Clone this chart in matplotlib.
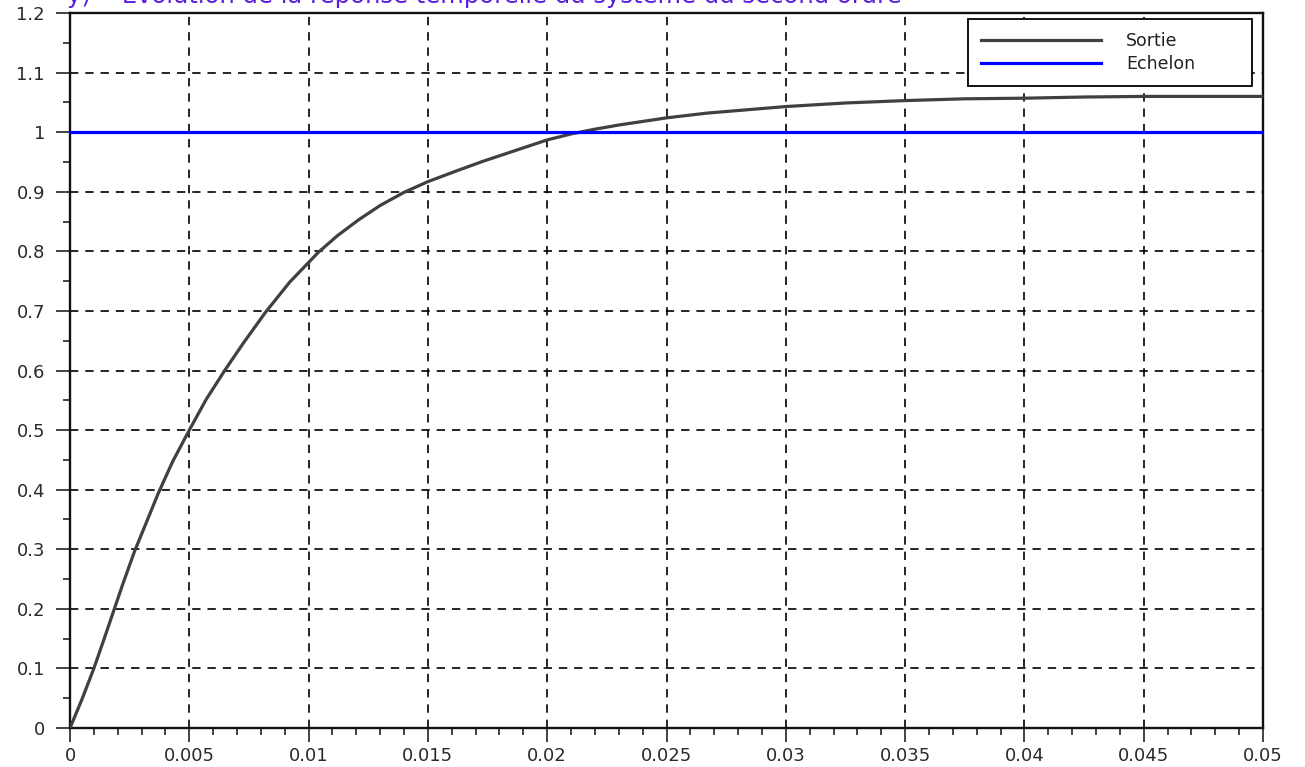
import matplotlib
matplotlib.use("Agg")
import matplotlib.pyplot as plt
from matplotlib.ticker import MultipleLocator, FixedLocator

plt.rcParams['font.family'] = ['DejaVu Sans']
plt.rcParams['lines.scale_dashes'] = False

# ---- data ----
t_sortie = [0, 0.0005, 0.001, 0.0014, 0.0018, 0.0022, 0.0027, 0.0032, 0.0037, 0.0043,
            0.005, 0.0057, 0.0065, 0.0073, 0.0082, 0.0092, 0.0104, 0.0112, 0.0121,
            0.013, 0.014, 0.015, 0.0162, 0.0173, 0.0185, 0.02, 0.021, 0.022, 0.023,
            0.025, 0.0267, 0.03, 0.0325, 0.035, 0.0375, 0.04, 0.0425, 0.045, 0.05]
y_sortie = [0, 0.048, 0.1, 0.146, 0.193, 0.24, 0.296, 0.345, 0.394, 0.447,
            0.5, 0.551, 0.601, 0.648, 0.698, 0.748, 0.798, 0.826, 0.853,
            0.877, 0.899, 0.917, 0.935, 0.951, 0.967, 0.987, 0.997, 1.005, 1.012,
            1.024, 1.032, 1.043, 1.049, 1.053, 1.056, 1.057, 1.059, 1.06, 1.06]
t_echelon = [0, 0.05]
y_echelon = [1, 1]

labels = ["Sortie", "Echelon"]
x_ticks = [0, 0.005, 0.01, 0.015, 0.02, 0.025, 0.03, 0.035, 0.04, 0.045, 0.05]
x_ticklabels = ["0", "0.005", "0.01", "0.015", "0.02", "0.025", "0.03", "0.035", "0.04", "0.045", "0.05"]
y_ticks = [0, 0.1, 0.2, 0.3, 0.4, 0.5, 0.6, 0.7, 0.8, 0.9, 1, 1.1, 1.2]
y_ticklabels = ["0", "0.1", "0.2", "0.3", "0.4", "0.5", "0.6", "0.7", "0.8", "0.9", "1", "1.1", "1.2"]
title = "y)    Evolution de la réponse temporelle du système du second ordre"

W, H = 1305, 767
fig = plt.figure(figsize=(W / 100, H / 100), dpi=100)
ax = fig.add_axes([70 / W, 39 / H, 1193 / W, 715 / H])

ax.plot(t_sortie, y_sortie, color="#404040", lw=2.3, label=labels[0], zorder=3,
        solid_joinstyle="round")
ax.plot(t_echelon, y_echelon, color="#0000ff", lw=2.3, label=labels[1], zorder=3)

ax.set_xlim(0, 0.05)
ax.set_ylim(0, 1.2)
ax.xaxis.set_major_locator(FixedLocator(x_ticks))
ax.set_xticklabels(x_ticklabels)
ax.yaxis.set_major_locator(FixedLocator(y_ticks))
ax.set_yticklabels(y_ticklabels)
ax.xaxis.set_minor_locator(MultipleLocator(0.001))
ax.yaxis.set_minor_locator(MultipleLocator(0.05))

ax.tick_params(which="major", direction="out", length=10, width=1.2,
               labelsize=13, labelcolor="#2a2a2a", color="#222222")
ax.tick_params(axis="x", which="major", pad=4)
ax.tick_params(axis="y", which="major", pad=8)
ax.tick_params(which="minor", direction="out", length=5, width=1.2, color="#222222")

for s in ax.spines.values():
    s.set_linewidth(1.7)
    s.set_color("#111111")

ax.grid(True, which="major", color="black", lw=1.2, linestyle=(0, (6.0, 5.0)), zorder=1)
ax.set_axisbelow(True)

x0 = (968 - 70) / 1193
wid = (1252 - 968) / 1193
leg = ax.legend(loc="upper left", bbox_to_anchor=(x0, 0.0, wid, 0.9916), mode="expand",
                fontsize=12.5, frameon=True, fancybox=False, framealpha=1,
                edgecolor="black", handlelength=6.9, handletextpad=1.45,
                labelspacing=0.28, borderpad=0.75, borderaxespad=0.0)
leg.get_frame().set_linewidth(1.3)
for txt in leg.get_texts():
    txt.set_color("#222222")

fig.text(67 / W, 1 - 2.5 / H, title, color="#5a1ee0", fontsize=17.5,
         ha="left", va="baseline")

fig.savefig("out.png", dpi=100)
